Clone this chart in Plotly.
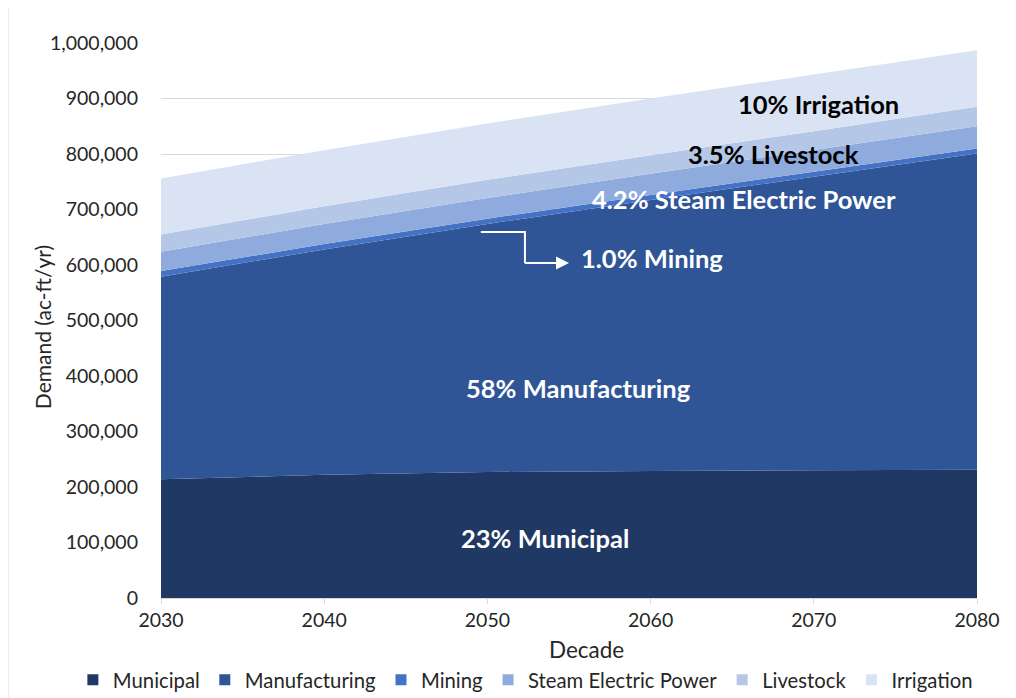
import plotly.graph_objects as go

decades = [2030, 2040, 2050, 2060, 2070, 2080]

municipal = [214000, 222000, 227000, 229000, 230000, 231000]
manufacturing = [365000, 406000, 447000, 488000, 529000, 570000]
mining = [10000, 9800, 9500, 9300, 9200, 9000]
steam_electric = [35000, 36000, 37000, 38000, 39000, 40000]
livestock = [31000, 32000, 33000, 33500, 34000, 35000]
irrigation = [101000, 101000, 101500, 102000, 102000, 102000]

series_names = ['Municipal', 'Manufacturing', 'Mining', 'Steam Electric Power', 'Livestock', 'Irrigation']
series_values = [municipal, manufacturing, mining, steam_electric, livestock, irrigation]
series_colors = ['#203864', '#2f5597', '#4472c4', '#8faadc', '#b4c7e7', '#dae3f3']

# labels shown on the areas: text, x (decade), y (demand), colour
area_labels = [
    ('10% Irrigation', 2070.3, 890000, '#000000'),
    ('3.5% Livestock', 2067.5, 800000, '#000000'),
    ('4.2% Steam Electric Power', 2065.7, 719000, '#ffffff'),
    ('1.0% Mining', 2060.1, 612000, '#ffffff'),
    ('58% Manufacturing', 2055.6, 378000, '#ffffff'),
    ('23% Municipal', 2053.5, 108000, '#ffffff'),
]

font_family = 'Lato, Open Sans, sans-serif'
text_color = '#262626'

fig = go.Figure()
for name, vals, color in zip(series_names, series_values, series_colors):
    fig.add_trace(go.Scatter(
        x=decades,
        y=vals,
        name=name,
        mode='none',
        stackgroup='one',
        fillcolor=color,
        line=dict(width=0),
        showlegend=False,
    ))

# legend entries drawn as small squares, like the original
for name, color in zip(series_names, series_colors):
    fig.add_trace(go.Scatter(
        x=[None], y=[None],
        name=name,
        mode='markers',
        marker=dict(symbol='square', size=11, color=color),
    ))

for text, x, y, color in area_labels:
    fig.add_annotation(
        x=x, y=y, xref='x', yref='y',
        text='<b>%s</b>' % text,
        showarrow=False,
        font=dict(family=font_family, size=25.5, color=color),
    )

# elbow arrow pointing at the mining label
fig.add_shape(
    type='path',
    path='M 2049.6 659500 L 2052.3 659500 L 2052.3 603600',
    xref='x', yref='y',
    line=dict(color='white', width=2),
)
fig.add_annotation(
    x=2055.0, y=603600, ax=2052.2, ay=603600,
    xref='x', yref='y', axref='x', ayref='y',
    text='', showarrow=True,
    arrowhead=2, arrowsize=1.3, arrowwidth=2, arrowcolor='white',
)

# axis titles
fig.add_annotation(
    text='Decade', xref='paper', yref='paper',
    x=0.521, y=-0.092, xanchor='center', yanchor='middle',
    showarrow=False,
    font=dict(family=font_family, size=22.5, color=text_color),
)
fig.add_annotation(
    text='Demand (ac-ft/yr)', xref='paper', yref='paper',
    x=-0.1458, y=0.488, xanchor='center', yanchor='middle',
    textangle=-90, showarrow=False,
    font=dict(family=font_family, size=21, color=text_color),
)

# chart border on the left edge
fig.add_shape(
    type='line', xref='paper', yref='paper',
    x0=-0.1875, x1=-0.1875, y0=-0.18, y1=1.077,
    line=dict(color='#d9d9d9', width=1),
)

# the page adds an 8px body margin, so the figure is a bit smaller than the window
fig.update_layout(
    width=1000,
    height=690,
    margin=dict(l=153, r=31, t=35, b=100, autoexpand=False),
    paper_bgcolor='white',
    plot_bgcolor='white',
    font=dict(family=font_family, size=19, color=text_color),
    showlegend=True,
    legend=dict(
        orientation='h',
        xref='paper', yref='paper',
        x=-0.108, xanchor='left',
        y=-0.1477, yanchor='middle',
        font=dict(size=20.3, color=text_color),
        traceorder='normal',
        itemwidth=30,
        tracegroupgap=0,
    ),
    xaxis=dict(
        range=[2030, 2080],
        tickmode='array',
        tickvals=decades,
        ticks='outside',
        ticklen=5,
        tickcolor='#d9d9d9',
        showgrid=False,
        showline=True,
        linecolor='#d9d9d9',
        tickfont=dict(size=19.5),
        automargin=False,
    ),
    yaxis=dict(
        range=[0, 1000000],
        dtick=100000,
        tickformat=',',
        showgrid=True,
        gridcolor='#d9d9d9',
        zeroline=False,
        ticks='',
        ticklabelstandoff=22,
        tickfont=dict(size=19.5),
        automargin=False,
    ),
)

fig.write_html('out.html')
